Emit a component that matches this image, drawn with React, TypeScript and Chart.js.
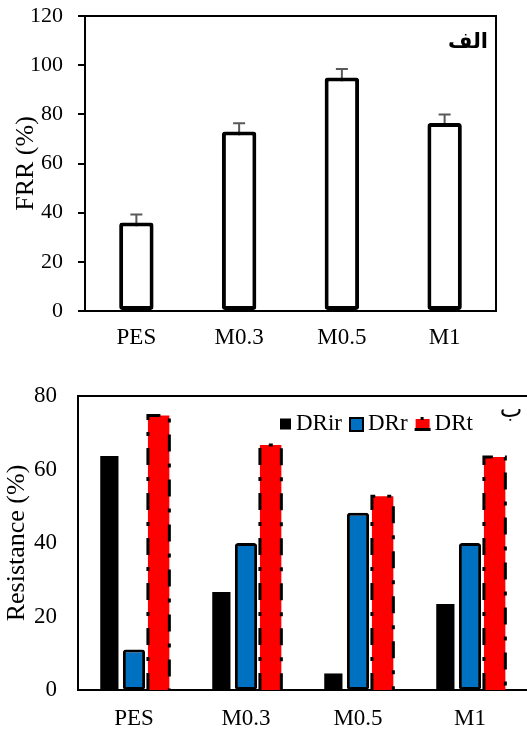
import React, { useEffect, useRef } from "react";
import { Chart, registerables } from "chart.js";

Chart.register(...registerables);

// ---------- data ----------
const categories = ["PES", "M0.3", "M0.5", "M1"];
const frrValues = [36, 73, 95, 76.5];
const frrErrors = [3.3, 3.4, 3.4, 3.4];
const frrTickMin = 0;
const frrTickMax = 120;
const frrTickStep = 20;

const seriesLabels = ["DRir", "DRr", "DRt"];
const drIrValues = [63.7, 26.7, 4.5, 23.4];
const drRValues = [11, 40, 48.2, 40];
const drTValues = [74.7, 66.7, 52.7, 63.4];
const resTickMin = 0;
const resTickMax = 80;
const resTickStep = 20;

const panelLabels = ["الف", "ب"];
const axisTitles = ["FRR (%)", "Resistance (%)"];

// ---------- styles ----------
const SERIF = "'Liberation Serif', 'Times New Roman', serif";
const ARABIC = "'DejaVu Sans', sans-serif";
const seriesColors = ["#000000", "#0070C0", "#FF0000"];

const errorBarPlugin = {
  id: "errorBars",
  beforeDatasetsDraw(chart: any) {
    const meta = chart.getDatasetMeta(0);
    const y = chart.scales.y;
    const ctx = chart.ctx;
    ctx.save();
    ctx.strokeStyle = "#595959";
    ctx.lineWidth = 2;
    meta.data.forEach((bar: any, i: number) => {
      const v = frrValues[i];
      const e = frrErrors[i];
      const yT = y.getPixelForValue(v + e);
      const yB = y.getPixelForValue(v - e);
      const x = bar.x;
      ctx.beginPath();
      ctx.moveTo(x, yT);
      ctx.lineTo(x, yB);
      ctx.moveTo(x - 6, yT);
      ctx.lineTo(x + 6, yT);
      ctx.moveTo(x - 6, yB);
      ctx.lineTo(x + 6, yB);
      ctx.stroke();
    });
    ctx.restore();
  },
};

const frameTopPlugin = {
  id: "frameTop",
  afterDraw(chart: any) {
    const { ctx, chartArea } = chart;
    ctx.save();
    ctx.strokeStyle = "#000";
    ctx.lineWidth = 2;
    ctx.beginPath();
    ctx.moveTo(chartArea.left - 1, chartArea.top);
    ctx.lineTo(chartArea.right, chartArea.top);
    ctx.lineTo(chartArea.right, chartArea.bottom);
    ctx.stroke();
    ctx.font = `bold 21px ${ARABIC}`;
    ctx.fillStyle = "#000";
    ctx.textAlign = "right";
    ctx.textBaseline = "middle";
    ctx.fillText(panelLabels[0], chartArea.right - 8, chartArea.top + 27);
    ctx.restore();
  },
};

const frameBottomPlugin = {
  id: "frameBottom",
  afterDatasetsDraw(chart: any) {
    const ctx = chart.ctx;
    const meta = chart.getDatasetMeta(2);
    ctx.save();
    ctx.strokeStyle = "#000";
    ctx.lineWidth = 3;
    ctx.setLineDash([17, 12, 4, 12]);
    meta.data.forEach((bar: any) => {
      const { x, y, base, width } = bar.getProps(["x", "y", "base", "width"], true);
      const l = x - width / 2;
      const r = x + width / 2;
      ctx.beginPath();
      ctx.moveTo(l, base);
      ctx.lineTo(l, y);
      ctx.lineTo(r, y);
      ctx.lineTo(r, base);
      ctx.stroke();
    });
    ctx.restore();
  },
  afterDraw(chart: any) {
    const { ctx, chartArea, width } = chart;
    ctx.save();
    ctx.strokeStyle = "#000";
    ctx.lineWidth = 2;
    ctx.beginPath();
    ctx.moveTo(chartArea.left - 1, chartArea.top);
    ctx.lineTo(width, chartArea.top);
    ctx.stroke();

    // legend
    ctx.font = `23px ${SERIF}`;
    ctx.textBaseline = "middle";
    ctx.textAlign = "left";
    let x = 280;
    const cy = 62;
    chart.data.datasets.forEach((ds: any, i: number) => {
      let bw = 11;
      if (i === 0) {
        ctx.fillStyle = ds.backgroundColor;
        ctx.fillRect(x, cy - 5.5, 11, 11);
        bw = 12;
      } else if (i === 1) {
        ctx.fillStyle = ds.backgroundColor;
        ctx.fillRect(x + 1, cy - 6, 13, 13);
        ctx.strokeStyle = "#000";
        ctx.lineWidth = 2;
        ctx.strokeRect(x + 1, cy - 6, 13, 13);
        bw = 15;
      } else {
        ctx.fillStyle = ds.backgroundColor;
        ctx.fillRect(x + 1, cy - 5, 14, 11);
        ctx.fillStyle = "#000";
        ctx.fillRect(x, cy + 4, 16, 3);
        ctx.fillRect(x + 6, cy - 7, 3, 3);
        bw = 16;
      }
      x += bw + 4;
      ctx.fillStyle = "#000";
      ctx.fillText(ds.label, x, cy);
      x += ctx.measureText(ds.label).width + 7;
    });

    ctx.font = `24px ${ARABIC}`;
    ctx.textAlign = "center";
    ctx.fillText(panelLabels[1], 511, 49);
    ctx.restore();
  },
};

function fixY(width: number) {
  return (s: any) => {
    s.width = width;
    s.paddingTop = 0;
    s.paddingBottom = 0;
  };
}
function fixX(height: number) {
  return (s: any) => {
    s.height = height;
    s.paddingLeft = 0;
    s.paddingRight = 0;
  };
}

export default function App() {
  const topRef = useRef<HTMLCanvasElement>(null);
  const botRef = useRef<HTMLCanvasElement>(null);

  useEffect(() => {
    const c1 = new Chart(topRef.current as HTMLCanvasElement, {
      type: "bar",
      data: {
        labels: categories,
        datasets: [
          {
            label: "FRR",
            data: frrValues,
            backgroundColor: "#ffffff",
            borderColor: "#000000",
            borderWidth: 4,
            borderRadius: 3,
            borderSkipped: false,
            barPercentage: 0.335,
            categoryPercentage: 1,
          },
        ],
      },
      options: {
        animation: false,
        responsive: false,
        maintainAspectRatio: false,
        layout: { padding: { top: 16, right: 31, left: 0, bottom: 0 } },
        plugins: { legend: { display: false }, tooltip: { enabled: false } },
        scales: {
          x: {
            grid: { display: false, drawTicks: false },
            border: { color: "#000", width: 2 },
            ticks: { font: { family: SERIF, size: 23 }, color: "#000", padding: 13, maxRotation: 0 },
            afterFit: fixX(51),
          },
          y: {
            min: frrTickMin,
            max: frrTickMax,
            ticks: { stepSize: frrTickStep, font: { family: SERIF, size: 22 }, color: "#000", padding: 15 },
            grid: { drawOnChartArea: false, tickLength: 7, color: "#000", lineWidth: 2 },
            border: { color: "#000", width: 2 },
            title: {
              display: true,
              text: axisTitles[0],
              font: { family: SERIF, size: 26 },
              color: "#000",
              padding: { top: 11, bottom: 0 },
            },
            afterFit: fixY(85),
          },
        },
      },
      plugins: [errorBarPlugin, frameTopPlugin],
    } as any);

    const c2 = new Chart(botRef.current as HTMLCanvasElement, {
      type: "bar",
      data: {
        labels: categories,
        datasets: [
          {
            label: seriesLabels[0],
            data: drIrValues,
            backgroundColor: seriesColors[0],
            borderWidth: 0,
            barPercentage: 0.74,
            categoryPercentage: 0.66,
          },
          {
            label: seriesLabels[1],
            data: drRValues,
            backgroundColor: seriesColors[1],
            borderColor: "#000",
            borderWidth: 3,
            borderRadius: 3,
            borderSkipped: false,
            barPercentage: 0.9,
            categoryPercentage: 0.66,
          },
          {
            label: seriesLabels[2],
            data: drTValues,
            backgroundColor: seriesColors[2],
            borderWidth: 0,
            barPercentage: 0.87,
            categoryPercentage: 0.66,
          },
        ],
      },
      options: {
        animation: false,
        responsive: false,
        maintainAspectRatio: false,
        layout: { padding: { top: 34, right: 1, left: 0, bottom: 0 } },
        plugins: { legend: { display: false }, tooltip: { enabled: false } },
        scales: {
          x: {
            grid: { display: false, drawTicks: false },
            border: { color: "#000", width: 2 },
            ticks: { font: { family: SERIF, size: 23 }, color: "#000", padding: 15, maxRotation: 0 },
            afterFit: fixX(41),
          },
          y: {
            min: resTickMin,
            max: resTickMax,
            ticks: { stepSize: resTickStep, font: { family: SERIF, size: 23 }, color: "#000", padding: 21 },
            grid: { display: false, drawTicks: false },
            border: { color: "#000", width: 2 },
            title: {
              display: true,
              text: axisTitles[1],
              font: { family: SERIF, size: 26 },
              color: "#000",
              padding: { top: 2, bottom: 0 },
            },
            afterFit: fixY(78),
          },
        },
      },
      plugins: [frameBottomPlugin],
    } as any);

    return () => {
      c1.destroy();
      c2.destroy();
    };
  }, []);

  return (
    <div style={{ position: "absolute", left: 0, top: 0, width: 527, height: 731, background: "#fff" }}>
      <canvas ref={topRef} width={527} height={362} style={{ position: "absolute", left: 0, top: 0 }} />
      <canvas ref={botRef} width={527} height={369} style={{ position: "absolute", left: 0, top: 362 }} />
    </div>
  );
}
